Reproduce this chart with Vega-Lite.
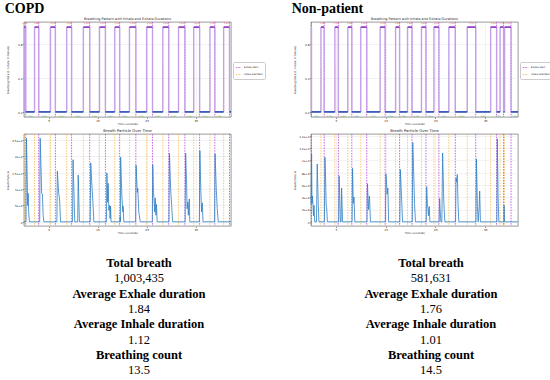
{
  "$schema": "https://vega.github.io/schema/vega-lite/v6.json",
  "padding": {"left": 4, "top": 1, "right": 0, "bottom": 0},
  "background": "white",
  "datasets": {
    "copd_cycles": [
      {"ins": 0.05, "exh": 0.35, "next": 2.15, "mi": 0.2, "me": 1.25, "li": "0.30s", "le": "1.80s"},
      {"ins": 2.15, "exh": 3.0, "next": 5.4, "mi": 2.58, "me": 4.2, "li": "0.85s", "le": "2.40s"},
      {"ins": 5.4, "exh": 6.4, "next": 8.7, "mi": 5.9, "me": 7.55, "li": "1.00s", "le": "2.30s"},
      {"ins": 8.7, "exh": 9.7, "next": 12.1, "mi": 9.2, "me": 10.9, "li": "1.00s", "le": "2.40s"},
      {"ins": 12.1, "exh": 13.4, "next": 15.4, "mi": 12.75, "me": 14.4, "li": "1.30s", "le": "2.00s"},
      {"ins": 15.4, "exh": 16.6, "next": 18.5, "mi": 16.0, "me": 17.55, "li": "1.20s", "le": "1.90s"},
      {"ins": 18.5, "exh": 19.5, "next": 21.5, "mi": 19.0, "me": 20.5, "li": "1.00s", "le": "2.00s"},
      {"ins": 21.5, "exh": 22.8, "next": 25.0, "mi": 22.15, "me": 23.9, "li": "1.30s", "le": "2.20s"},
      {"ins": 25.0, "exh": 26.2, "next": 28.3, "mi": 25.6, "me": 27.25, "li": "1.20s", "le": "2.10s"},
      {"ins": 28.3, "exh": 29.5, "next": 31.5, "mi": 28.9, "me": 30.5, "li": "1.20s", "le": "2.00s"},
      {"ins": 31.5, "exh": 32.8, "next": 34.6, "mi": 32.15, "me": 33.7, "li": "1.30s", "le": "1.80s"},
      {"ins": 34.6, "exh": 35.8, "next": 37.9, "mi": 35.2, "me": 36.85, "li": "1.20s", "le": "2.10s"},
      {"ins": 37.9, "exh": 38.9, "next": 40.7, "mi": 38.4, "me": 39.8, "li": "1.00s", "le": "1.80s"},
      {"ins": 40.7, "exh": 41.9, "next": 42.2, "mi": 41.3, "me": null, "li": "1.20s", "le": ""}
    ],
    "np_cycles": [
      {"ins": null, "exh": 0.1, "next": 2.0, "mi": null, "me": 1.05, "li": "", "le": "1.90s"},
      {"ins": 2.0, "exh": 2.65, "next": 4.8, "mi": 2.33, "me": 3.73, "li": "0.65s", "le": "2.15s"},
      {"ins": 4.8, "exh": 5.5, "next": 7.4, "mi": 5.15, "me": 6.45, "li": "0.70s", "le": "1.90s"},
      {"ins": 7.4, "exh": 8.2, "next": 10.0, "mi": 7.8, "me": 9.1, "li": "0.80s", "le": "1.80s"},
      {"ins": 10.0, "exh": 11.2, "next": 13.9, "mi": 10.6, "me": 12.55, "li": "1.20s", "le": "2.70s"},
      {"ins": 13.9, "exh": 14.9, "next": 17.0, "mi": 14.4, "me": 15.95, "li": "1.00s", "le": "2.10s"},
      {"ins": 17.0, "exh": 17.8, "next": 19.4, "mi": 17.4, "me": 18.6, "li": "0.80s", "le": "1.60s"},
      {"ins": 19.4, "exh": 20.3, "next": 22.2, "mi": 19.85, "me": 21.25, "li": "0.90s", "le": "1.90s"},
      {"ins": 22.2, "exh": 23.1, "next": 24.7, "mi": 22.65, "me": 23.9, "li": "0.90s", "le": "1.60s"},
      {"ins": 24.7, "exh": 25.7, "next": 27.7, "mi": 25.2, "me": 26.7, "li": "1.00s", "le": "2.00s"},
      {"ins": 27.7, "exh": 29.0, "next": 31.4, "mi": 28.35, "me": 30.2, "li": "1.30s", "le": "2.40s"},
      {"ins": 31.4, "exh": 33.1, "next": 36.1, "mi": 32.25, "me": 34.6, "li": "1.70s", "le": "3.00s"},
      {"ins": 36.1, "exh": 37.3, "next": 38.0, "mi": 36.7, "me": 37.65, "li": "1.20s", "le": "0.70s"},
      {"ins": 38.0, "exh": 38.7, "next": 38.9, "mi": 38.35, "me": null, "li": "0.70s", "le": ""},
      {"ins": 38.9, "exh": 40.2, "next": 41.6, "mi": 39.55, "me": 40.9, "li": "1.30s", "le": "1.40s"}
    ],
    "copd_particles": [
      {"t": 0, "v": 0}, {"t": 0.4, "v": 0}, {"t": 0.5, "v": 25600}, {"t": 0.65, "v": 14000}, {"t": 0.75, "v": 5000}, {"t": 0.85, "v": 8700}, {"t": 0.95, "v": 3000}, {"t": 1.1, "v": 0},
      {"t": 3.2, "v": 0}, {"t": 3.3, "v": 25600}, {"t": 3.5, "v": 15000}, {"t": 3.6, "v": 8700}, {"t": 3.75, "v": 8500}, {"t": 3.9, "v": 2000}, {"t": 4.05, "v": 0},
      {"t": 6.7, "v": 0}, {"t": 6.8, "v": 15500}, {"t": 7.05, "v": 9000}, {"t": 7.25, "v": 7000}, {"t": 7.45, "v": 0},
      {"t": 9.9, "v": 0}, {"t": 10.0, "v": 19000}, {"t": 10.2, "v": 8000}, {"t": 10.35, "v": 0}, {"t": 10.95, "v": 0}, {"t": 11.05, "v": 14300}, {"t": 11.3, "v": 0},
      {"t": 13.5, "v": 0}, {"t": 13.6, "v": 18000}, {"t": 13.85, "v": 11000}, {"t": 14.05, "v": 6000}, {"t": 14.25, "v": 0},
      {"t": 16.8, "v": 0}, {"t": 16.9, "v": 15000}, {"t": 17.05, "v": 6000}, {"t": 17.15, "v": 11800}, {"t": 17.3, "v": 3500}, {"t": 17.45, "v": 5000}, {"t": 17.55, "v": 1000}, {"t": 17.65, "v": 4800}, {"t": 17.75, "v": 0},
      {"t": 19.55, "v": 0}, {"t": 19.6, "v": 1500}, {"t": 19.65, "v": 0}, {"t": 19.7, "v": 19800}, {"t": 19.95, "v": 8000}, {"t": 20.15, "v": 3000}, {"t": 20.2, "v": 4800}, {"t": 20.35, "v": 0},
      {"t": 22.75, "v": 0}, {"t": 22.85, "v": 17300}, {"t": 23.1, "v": 9000}, {"t": 23.2, "v": 10200}, {"t": 23.4, "v": 3000}, {"t": 23.5, "v": 2000}, {"t": 23.7, "v": 0},
      {"t": 26.15, "v": 0}, {"t": 26.25, "v": 17500}, {"t": 26.4, "v": 9000}, {"t": 26.5, "v": 7000}, {"t": 26.65, "v": 3000}, {"t": 26.75, "v": 7300}, {"t": 26.9, "v": 2000}, {"t": 27.0, "v": 5300}, {"t": 27.15, "v": 0},
      {"t": 29.55, "v": 0}, {"t": 29.65, "v": 21000}, {"t": 29.9, "v": 10000}, {"t": 30.1, "v": 5000}, {"t": 30.3, "v": 0},
      {"t": 32.85, "v": 0}, {"t": 32.95, "v": 21000}, {"t": 33.15, "v": 11500}, {"t": 33.25, "v": 4000}, {"t": 33.4, "v": 6000}, {"t": 33.5, "v": 2000}, {"t": 33.7, "v": 7000}, {"t": 33.8, "v": 0},
      {"t": 35.75, "v": 0}, {"t": 35.85, "v": 21800}, {"t": 36.05, "v": 9500}, {"t": 36.2, "v": 3000}, {"t": 36.35, "v": 5800}, {"t": 36.5, "v": 0},
      {"t": 38.85, "v": 0}, {"t": 38.95, "v": 20800}, {"t": 39.2, "v": 10000}, {"t": 39.4, "v": 4000}, {"t": 39.6, "v": 0},
      {"t": 42.2, "v": 0}
    ],
    "np_particles": [
      {"t": 0.0, "v": 2800}, {"t": 0.12, "v": 11000}, {"t": 0.2, "v": 3000}, {"t": 0.3, "v": 4200}, {"t": 0.4, "v": 2700}, {"t": 0.5, "v": 1000}, {"t": 0.6, "v": 2700}, {"t": 0.75, "v": 0}, {"t": 1.1, "v": 0}, {"t": 1.25, "v": 9400}, {"t": 1.45, "v": 3000}, {"t": 1.6, "v": 0},
      {"t": 2.7, "v": 0}, {"t": 2.8, "v": 10500}, {"t": 2.9, "v": 8200}, {"t": 3.05, "v": 2700}, {"t": 3.15, "v": 2300}, {"t": 3.3, "v": 0},
      {"t": 5.55, "v": 0}, {"t": 5.65, "v": 7500}, {"t": 5.8, "v": 3000}, {"t": 5.9, "v": 0}, {"t": 6.05, "v": 0}, {"t": 6.15, "v": 5500}, {"t": 6.35, "v": 0},
      {"t": 8.25, "v": 0}, {"t": 8.35, "v": 8700}, {"t": 8.5, "v": 3000}, {"t": 8.65, "v": 4000}, {"t": 8.8, "v": 0},
      {"t": 11.25, "v": 0}, {"t": 11.35, "v": 6200}, {"t": 11.55, "v": 2000}, {"t": 11.75, "v": 4200}, {"t": 11.95, "v": 0},
      {"t": 14.95, "v": 0}, {"t": 15.05, "v": 7800}, {"t": 15.2, "v": 6000}, {"t": 15.3, "v": 4500}, {"t": 15.45, "v": 5500}, {"t": 15.6, "v": 0},
      {"t": 17.85, "v": 0}, {"t": 17.95, "v": 8500}, {"t": 18.05, "v": 6800}, {"t": 18.25, "v": 3000}, {"t": 18.4, "v": 0},
      {"t": 20.35, "v": 0}, {"t": 20.45, "v": 12900}, {"t": 20.6, "v": 9000}, {"t": 20.8, "v": 3000}, {"t": 21.0, "v": 0},
      {"t": 23.15, "v": 0}, {"t": 23.25, "v": 5700}, {"t": 23.4, "v": 2500}, {"t": 23.5, "v": 2300}, {"t": 23.6, "v": 1000}, {"t": 23.75, "v": 2500}, {"t": 23.9, "v": 0},
      {"t": 25.75, "v": 0}, {"t": 25.85, "v": 3800}, {"t": 25.95, "v": 2000}, {"t": 26.1, "v": 0}, {"t": 26.3, "v": 0}, {"t": 26.45, "v": 11200}, {"t": 26.7, "v": 3000}, {"t": 26.9, "v": 0},
      {"t": 29.05, "v": 0}, {"t": 29.15, "v": 7100}, {"t": 29.25, "v": 6500}, {"t": 29.4, "v": 7700}, {"t": 29.55, "v": 3000}, {"t": 29.7, "v": 0},
      {"t": 33.15, "v": 0}, {"t": 33.25, "v": 10200}, {"t": 33.45, "v": 2500}, {"t": 33.6, "v": 0}, {"t": 33.8, "v": 2500}, {"t": 33.9, "v": 5000}, {"t": 34.05, "v": 0},
      {"t": 37.35, "v": 0}, {"t": 37.45, "v": 13500}, {"t": 37.6, "v": 4000}, {"t": 37.75, "v": 0},
      {"t": 38.75, "v": 0}, {"t": 38.8, "v": 2700}, {"t": 38.9, "v": 0},
      {"t": 41.6, "v": 0}
    ],
    "stats": [
      {"g": "COPD", "row": 1, "txt": "Total breath", "h": true},
      {"g": "COPD", "row": 2, "txt": "1,003,435", "h": false},
      {"g": "COPD", "row": 3, "txt": "Average Exhale duration", "h": true},
      {"g": "COPD", "row": 4, "txt": "1.84", "h": false},
      {"g": "COPD", "row": 5, "txt": "Average Inhale duration", "h": true},
      {"g": "COPD", "row": 6, "txt": "1.12", "h": false},
      {"g": "COPD", "row": 7, "txt": "Breathing count", "h": true},
      {"g": "COPD", "row": 8, "txt": "13.5", "h": false},
      {"g": "Non-patient", "row": 1, "txt": "Total breath", "h": true},
      {"g": "Non-patient", "row": 2, "txt": "581,631", "h": false},
      {"g": "Non-patient", "row": 3, "txt": "Average Exhale duration", "h": true},
      {"g": "Non-patient", "row": 4, "txt": "1.76", "h": false},
      {"g": "Non-patient", "row": 5, "txt": "Average Inhale duration", "h": true},
      {"g": "Non-patient", "row": 6, "txt": "1.01", "h": false},
      {"g": "Non-patient", "row": 7, "txt": "Breathing count", "h": true},
      {"g": "Non-patient", "row": 8, "txt": "14.5", "h": false}
    ]
  },
  "resolve": {"scale": {"color": "independent"}, "legend": {"color": "independent"}},
  "spacing": 25,
  "hconcat": [
    {
      "title": {"text": "COPD", "anchor": "start", "font": "Liberation Serif", "fontSize": 14, "fontWeight": "bold", "color": "#000", "offset": 1, "dx": -2},
      "spacing": 2,
      "resolve": {"scale": {"color": "independent"}, "legend": {"color": "independent"}},
      "vconcat": [
        {
          "width": 207, "height": 95,
          "title": {"text": "Breathing Pattern with Inhale and Exhale Durations", "fontSize": 3.4, "offset": 1},
          "data": {"name": "copd_cycles"},
          "layer": [
            {"mark": {"type": "rule", "strokeDash": [1.5, 1.2], "strokeWidth": 0.8, "opacity": 0.9},
             "encoding": {
               "x": {"field": "ins", "type": "quantitative", "scale": {"domain": [0, 42.2], "nice": false, "zero": false}, "axis": {"values": [5, 10, 15, 20, 25, 30, 35, 40], "title": "Time (seconds)", "grid": true}},
               "y": {"datum": 0.5, "type": "quantitative", "scale": {"domain": [-0.06, 1.06], "nice": false, "zero": false}, "axis": {"values": [0, 0.2, 0.4, 0.6, 0.8, 1.0], "format": ".1f", "title": "Breathing State (1: Inhale, 0: Exhale)", "titleX": -14, "grid": true}},
               "color": {"datum": "Inhale Start/End", "scale": {"domain": ["Exhale Start", "Inhale Start/End"], "range": ["#b43fd4", "#f7b23e"]},
                 "legend": {"orient": "none", "legendX": 209, "legendY": 40, "title": null, "symbolType": "stroke", "symbolDash": [1.5, 1], "symbolStrokeWidth": 0.8, "symbolSize": 30, "labelFontSize": 2.3, "labelFont": "DejaVu Sans", "labelColor": "#222", "rowPadding": 1, "padding": 2, "strokeColor": "#cccccc", "fillColor": "white", "labelOffset": 2, "cornerRadius": 1}}
             }},
            {"mark": {"type": "rule", "strokeDash": [1.5, 1.2], "strokeWidth": 0.8, "opacity": 1},
             "encoding": {"x": {"field": "exh", "type": "quantitative"}, "color": {"datum": "Exhale Start"}}},
            {"mark": {"type": "rule", "color": "#c4a0ea", "strokeWidth": 1.4},
             "encoding": {"x": {"field": "ins", "type": "quantitative"}, "y": {"datum": 0}, "y2": {"datum": 1}}},
            {"mark": {"type": "rule", "color": "#c4a0ea", "strokeWidth": 1.4},
             "encoding": {"x": {"field": "exh", "type": "quantitative"}, "y": {"datum": 0}, "y2": {"datum": 1}}},
            {"mark": {"type": "rule", "color": "#8a2fc0", "strokeWidth": 1.6},
             "encoding": {"x": {"field": "ins", "type": "quantitative"}, "x2": {"field": "exh"}, "y": {"datum": 1}}},
            {"mark": {"type": "rule", "color": "#2448b8", "strokeWidth": 1.6},
             "encoding": {"x": {"field": "exh", "type": "quantitative"}, "x2": {"field": "next"}, "y": {"datum": 0}}},
            {"mark": {"type": "text", "color": "#e8383d", "fontSize": 2, "font": "DejaVu Sans", "baseline": "middle"},
             "encoding": {"x": {"field": "mi", "type": "quantitative"}, "y": {"datum": 1.045}, "text": {"field": "li"}}},
            {"mark": {"type": "text", "color": "#3aa84a", "fontSize": 2, "font": "DejaVu Sans", "baseline": "middle"},
             "encoding": {"x": {"field": "me", "type": "quantitative"}, "y": {"datum": -0.045}, "text": {"field": "le"}}}
          ]
        },
        {
          "width": 207, "height": 92,
          "title": {"text": "Breath Particle Over Time", "fontSize": 3.8, "offset": 1},
          "layer": [
            {"data": {"name": "copd_cycles"},
             "mark": {"type": "rule", "color": "#f7b23e", "strokeDash": [1.5, 1.2], "strokeWidth": 0.8, "opacity": 0.9},
             "encoding": {
               "x": {"field": "ins", "type": "quantitative", "scale": {"domain": [0, 42.2], "nice": false, "zero": false}, "axis": {"values": [5, 10, 15, 20, 25, 30, 35, 40], "title": "Time (seconds)", "grid": true}}
             }},
            {"data": {"name": "copd_cycles"},
             "mark": {"type": "rule", "color": "#b43fd4", "strokeDash": [1.5, 1.2], "strokeWidth": 0.8, "opacity": 1},
             "encoding": {"x": {"field": "exh", "type": "quantitative"}}},
            {"data": {"name": "copd_particles"},
             "mark": {"type": "line", "color": "#2f7fc1", "strokeWidth": 0.8},
             "encoding": {
               "x": {"field": "t", "type": "quantitative"},
               "y": {"field": "v", "type": "quantitative", "scale": {"domain": [-1280, 26880], "nice": false, "zero": false}, "axis": {"values": [0, 5000, 10000, 15000, 20000, 25000], "format": ",", "title": "Breath Particle", "titleX": -14, "grid": true}}
             }}
          ]
        },
        {
          "width": 230, "height": 141,
          "view": {"stroke": null},
          "data": {"name": "stats"},
          "transform": [{"filter": "datum.g === 'COPD'"}],
          "layer": [
            {"transform": [{"filter": "datum.h"}],
             "mark": {"type": "text", "font": "Liberation Serif", "fontSize": 12.5, "fontWeight": "bold", "color": "#000", "baseline": "middle"},
             "encoding": {
               "x": {"field": "g", "type": "nominal", "axis": null},
               "y": {"field": "row", "type": "quantitative", "scale": {"domain": [-0.7, 8.5], "reverse": true, "nice": false, "zero": false}, "axis": null},
               "text": {"field": "txt"}
             }},
            {"transform": [{"filter": "!datum.h"}],
             "mark": {"type": "text", "font": "Liberation Serif", "fontSize": 12.5, "color": "#000", "baseline": "middle"},
             "encoding": {
               "x": {"field": "g", "type": "nominal", "axis": null},
               "y": {"field": "row", "type": "quantitative", "axis": null},
               "text": {"field": "txt"}
             }}
          ]
        }
      ]
    },
    {
      "title": {"text": "Non-patient", "anchor": "start", "font": "Liberation Serif", "fontSize": 14, "fontWeight": "bold", "color": "#000", "offset": 1, "dx": -2},
      "spacing": 2,
      "resolve": {"scale": {"color": "independent"}, "legend": {"color": "independent"}},
      "vconcat": [
        {
          "width": 207, "height": 95,
          "title": {"text": "Breathing Pattern with Inhale and Exhale Durations", "fontSize": 3.4, "offset": 1},
          "data": {"name": "np_cycles"},
          "layer": [
            {"mark": {"type": "rule", "strokeDash": [1.5, 1.2], "strokeWidth": 0.8, "opacity": 0.9},
             "encoding": {
               "x": {"field": "ins", "type": "quantitative", "scale": {"domain": [0, 41.6], "nice": false, "zero": false}, "axis": {"values": [5, 10, 15, 20, 25, 30, 35, 40], "title": "Time (seconds)", "grid": true}},
               "y": {"datum": 0.5, "type": "quantitative", "scale": {"domain": [-0.06, 1.06], "nice": false, "zero": false}, "axis": {"values": [0, 0.2, 0.4, 0.6, 0.8, 1.0], "format": ".1f", "title": "Breathing State (1: Inhale, 0: Exhale)", "titleX": -14, "grid": true}},
               "color": {"datum": "Inhale Start/End", "scale": {"domain": ["Exhale Start", "Inhale Start/End"], "range": ["#b43fd4", "#f7b23e"]},
                 "legend": {"orient": "none", "legendX": 209, "legendY": 40, "title": null, "symbolType": "stroke", "symbolDash": [1.5, 1], "symbolStrokeWidth": 0.8, "symbolSize": 30, "labelFontSize": 2.3, "labelFont": "DejaVu Sans", "labelColor": "#222", "rowPadding": 1, "padding": 2, "strokeColor": "#cccccc", "fillColor": "white", "labelOffset": 2, "cornerRadius": 1}}
             }},
            {"mark": {"type": "rule", "strokeDash": [1.5, 1.2], "strokeWidth": 0.8, "opacity": 1},
             "encoding": {"x": {"field": "exh", "type": "quantitative"}, "color": {"datum": "Exhale Start"}}},
            {"mark": {"type": "rule", "color": "#c4a0ea", "strokeWidth": 1.4},
             "encoding": {"x": {"field": "ins", "type": "quantitative"}, "y": {"datum": 0}, "y2": {"datum": 1}}},
            {"mark": {"type": "rule", "color": "#c4a0ea", "strokeWidth": 1.4},
             "encoding": {"x": {"field": "exh", "type": "quantitative"}, "y": {"datum": 0}, "y2": {"datum": 1}}},
            {"mark": {"type": "rule", "color": "#8a2fc0", "strokeWidth": 1.6},
             "encoding": {"x": {"field": "ins", "type": "quantitative"}, "x2": {"field": "exh"}, "y": {"datum": 1}}},
            {"mark": {"type": "rule", "color": "#2448b8", "strokeWidth": 1.6},
             "encoding": {"x": {"field": "exh", "type": "quantitative"}, "x2": {"field": "next"}, "y": {"datum": 0}}},
            {"mark": {"type": "text", "color": "#e8383d", "fontSize": 2, "font": "DejaVu Sans", "baseline": "middle"},
             "encoding": {"x": {"field": "mi", "type": "quantitative"}, "y": {"datum": 1.045}, "text": {"field": "li"}}},
            {"mark": {"type": "text", "color": "#3aa84a", "fontSize": 2, "font": "DejaVu Sans", "baseline": "middle"},
             "encoding": {"x": {"field": "me", "type": "quantitative"}, "y": {"datum": -0.045}, "text": {"field": "le"}}}
          ]
        },
        {
          "width": 207, "height": 92,
          "title": {"text": "Breath Particle Over Time", "fontSize": 3.8, "offset": 1},
          "layer": [
            {"data": {"name": "np_cycles"},
             "mark": {"type": "rule", "color": "#f7b23e", "strokeDash": [1.5, 1.2], "strokeWidth": 0.8, "opacity": 0.9},
             "encoding": {
               "x": {"field": "ins", "type": "quantitative", "scale": {"domain": [0, 41.6], "nice": false, "zero": false}, "axis": {"values": [5, 10, 15, 20, 25, 30, 35, 40], "title": "Time (seconds)", "grid": true}}
             }},
            {"data": {"name": "np_cycles"},
             "mark": {"type": "rule", "color": "#b43fd4", "strokeDash": [1.5, 1.2], "strokeWidth": 0.8, "opacity": 1},
             "encoding": {"x": {"field": "exh", "type": "quantitative"}}},
            {"data": {"name": "np_particles"},
             "mark": {"type": "line", "color": "#2f7fc1", "strokeWidth": 0.8},
             "encoding": {
               "x": {"field": "t", "type": "quantitative"},
               "y": {"field": "v", "type": "quantitative", "scale": {"domain": [-680, 14280], "nice": false, "zero": false}, "axis": {"values": [0, 2000, 4000, 6000, 8000, 10000, 12000, 14000], "format": ",", "title": "Breath Particle", "titleX": -14, "grid": true}}
             }}
          ]
        },
        {
          "width": 240, "height": 141,
          "view": {"stroke": null},
          "data": {"name": "stats"},
          "transform": [{"filter": "datum.g === 'Non-patient'"}],
          "layer": [
            {"transform": [{"filter": "datum.h"}],
             "mark": {"type": "text", "font": "Liberation Serif", "fontSize": 12.5, "fontWeight": "bold", "color": "#000", "baseline": "middle"},
             "encoding": {
               "x": {"field": "g", "type": "nominal", "axis": null},
               "y": {"field": "row", "type": "quantitative", "scale": {"domain": [-0.7, 8.5], "reverse": true, "nice": false, "zero": false}, "axis": null},
               "text": {"field": "txt"}
             }},
            {"transform": [{"filter": "!datum.h"}],
             "mark": {"type": "text", "font": "Liberation Serif", "fontSize": 12.5, "color": "#000", "baseline": "middle"},
             "encoding": {
               "x": {"field": "g", "type": "nominal", "axis": null},
               "y": {"field": "row", "type": "quantitative", "axis": null},
               "text": {"field": "txt"}
             }}
          ]
        }
      ]
    }
  ],
  "config": {
    "view": {"stroke": "#555555", "strokeWidth": 0.6},
    "axis": {"labelFont": "DejaVu Sans", "titleFont": "DejaVu Sans", "labelFontSize": 2.8, "titleFontSize": 2.6, "titleFontWeight": "normal", "tickSize": 1.5, "tickWidth": 0.5, "tickColor": "#333333", "labelPadding": 0.5, "titlePadding": 1, "domain": false, "gridColor": "#e4e4e4", "gridWidth": 0.5, "labelColor": "#222222", "titleColor": "#222222", "minExtent": 0, "labelFlush": false, "labelOverlap": false},
    "title": {"font": "DejaVu Sans", "fontWeight": "normal", "color": "#222222"}
  }
}
